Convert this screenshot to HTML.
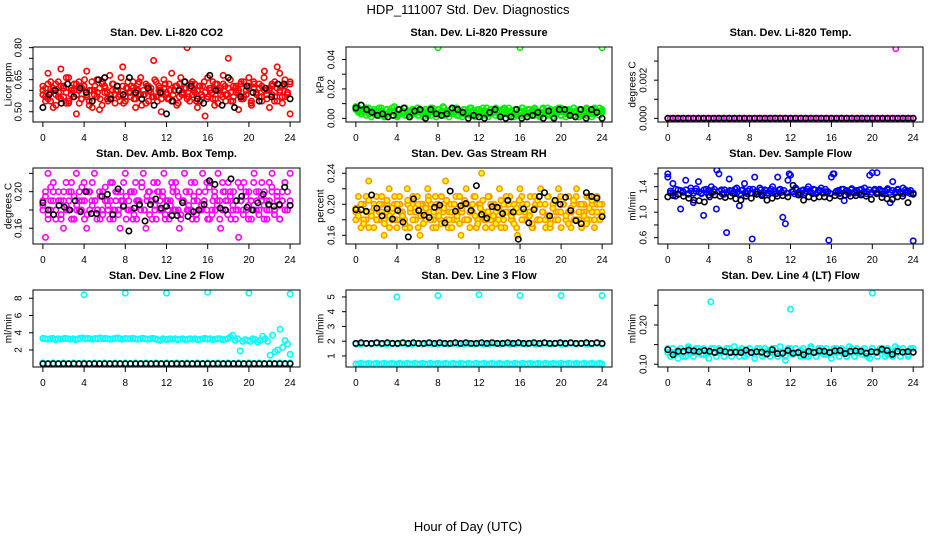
<!DOCTYPE html>
<html><head><meta charset="utf-8"><style>
html,body{margin:0;padding:0;background:#fff;}
svg{display:block;font-family:"Liberation Sans",sans-serif;}
</style></head><body>
<svg id="chart" width="936" height="540" viewBox="0 0 936 540" xmlns="http://www.w3.org/2000/svg">
<text x="468" y="14" text-anchor="middle" font-size="13">HDP_111007  Std. Dev. Diagnostics</text>
<text x="468" y="531" text-anchor="middle" font-size="13">Hour of Day (UTC)</text>
</svg>
<script>
const xTicks = [0,4,8,12,16,20,24];
// Panel 1 CO2
const co2Main = [0.62,0.55,0.68,0.59,0.52,0.63,0.57,0.70,0.61,0.54,0.66,0.58,0.60,0.49,0.64,0.56,0.62,0.69,0.53,0.60,0.58,0.65,0.51,0.63,0.59,0.56,0.67,0.60,0.54,0.62,0.58,0.71,0.55,0.61,0.57,0.64,0.52,0.60,0.66,0.58,0.63,0.55,0.61,0.74,0.57,0.62,0.50,0.65,0.59,0.56,0.68,0.60,0.53,0.63,0.58,0.61,0.80,0.55,0.64,0.59,0.52,0.62,0.57,0.48,0.66,0.60,0.56,0.63,0.54,0.61,0.67,0.58,0.75,0.55,0.62,0.59,0.51,0.64,0.57,0.60,0.66,0.53,0.61,0.58,0.63,0.55,0.69,0.60,0.52,0.62,0.57,0.71,0.59,0.54,0.65,0.58,0.49];
const co2Main2 = [0.58,0.61,0.56,0.64,0.60,0.53,0.59,0.62,0.57,0.66,0.55,0.60,0.63,0.58,0.54,0.61,0.65,0.57,0.60,0.52,0.62,0.59,0.56,0.64,0.61,0.55,0.58,0.63,0.60,0.57,0.66,0.54,0.61,0.59,0.62,0.56,0.60,0.64,0.53,0.58,0.62,0.60,0.57,0.65,0.55,0.61,0.59,0.63,0.56,0.60,0.58,0.62,0.54,0.66,0.59,0.61,0.57,0.63,0.60,0.55,0.62,0.58,0.64,0.56,0.61,0.59,0.53,0.63,0.60,0.57,0.62,0.58,0.65,0.55,0.61,0.59,0.63,0.56,0.60,0.62,0.54,0.64,0.59,0.61,0.57,0.66,0.58,0.60,0.63,0.55,0.61,0.68,0.57,0.62,0.59,0.64];
const co2Main3 = [0.60,0.57,0.63,0.55,0.61,0.58,0.64,0.56,0.62,0.59,0.54,0.61,0.57,0.63,0.60,0.56,0.62,0.58,0.55,0.64,0.60,0.57,0.61,0.53,0.62,0.59,0.56,0.63,0.58,0.60,0.55,0.62,0.57,0.64,0.59,0.61,0.56,0.63,0.58,0.60,0.54,0.62,0.59,0.57,0.64,0.60,0.56,0.61,0.58,0.63,0.55,0.60,0.62,0.57,0.59,0.64,0.56,0.61,0.58,0.63,0.60,0.55,0.62,0.59,0.57,0.61,0.64,0.56,0.60,0.58,0.63,0.55,0.61,0.59,0.57,0.62,0.60,0.56,0.64,0.58,0.61,0.55,0.63,0.59,0.57,0.62,0.60,0.56,0.61,0.58,0.64,0.55,0.60,0.62,0.57,0.59,0.63];
const co2Black = [0.52,0.58,0.60,0.54,0.63,0.57,0.61,0.59,0.55,0.65,0.66,0.56,0.62,0.58,0.66,0.59,0.56,0.61,0.53,0.59,0.49,0.55,0.60,0.64,0.62,0.56,0.54,0.67,0.60,0.53,0.66,0.52,0.57,0.62,0.59,0.55,0.61,0.57,0.63,0.63,0.56];
// Panel 2 Pressure
const presMain = [0.008,0.007,0.009,0.006,0.005,0.007,0.004,0.006,0.003,0.005,0.007,0.002,0.006,0.004,0.005,0.008,0.003,0.006,0.004,0.007,0.002,0.005,0.006,0.003,0.007,0.004,0.005,0.006,0.002,0.005,0.007,0.003,0.006,0.004,0.008,0.005,0.003,0.006,0.004,0.007,0.002,0.005,0.006,0.003,0.004,0.007,0.005,0.002,0.006,0.004,0.005,0.007,0.003,0.006,0.004,0.005,0.002,0.006,0.007,0.003,0.005,0.004,0.006,0.002,0.005,0.007,0.003,0.006,0.004,0.005,0.006,0.002,0.004,0.007,0.005,0.003,0.006,0.004,0.005,0.007,0.002,0.006,0.004,0.005,0.003,0.007,0.005,0.006,0.002,0.004,0.006,0.005,0.003,0.007,0.004,0.005,0.006];
const presMain2 = [0.006,0.004,0.003,0.005,0.002,0.004,0.001,0.003,0.005,0.002,0.004,0.001,0.003,0.005,0.002,0.004,0.001,0.003,0.005,0.002,0.004,0.001,0.003,0.005,0.002,0.004,0.001,0.003,0.005,0.002,0.004,0.001,0.003,0.005,0.002,0.004,0.001,0.003,0.005,0.002,0.004,0.001,0.003,0.005,0.002,0.004,0.001,0.003,0.005,0.002,0.004,0.001,0.003,0.005,0.002,0.004,0.001,0.003,0.005,0.002,0.004,0.001,0.003,0.005,0.002,0.004,0.001,0.003,0.005,0.002,0.004,0.001,0.003,0.005,0.002,0.004,0.001,0.003,0.005,0.002,0.004,0.001,0.003,0.005,0.002,0.004,0.001,0.003,0.005,0.002,0.004,0.001,0.003,0.005,0.002,0.004];
const presMain3 = [0.007,0.005,0.006,0.004,0.007,0.003,0.005,0.006,0.004,0.007,0.005,0.003,0.006,0.004,0.007,0.005,0.002,0.006,0.004,0.007,0.005,0.003,0.006,0.004,0.007,0.005,0.003,0.006,0.004,0.007,0.005,0.003,0.006,0.004,0.007,0.005,0.003,0.006,0.004,0.007,0.005,0.003,0.006,0.004,0.007,0.005,0.003,0.006,0.004,0.007,0.005,0.003,0.006,0.004,0.007,0.005,0.003,0.006,0.004,0.007,0.005,0.003,0.006,0.004,0.007,0.005,0.003,0.006,0.004,0.007,0.005,0.003,0.006,0.004,0.007,0.005,0.003,0.006,0.004,0.007,0.005,0.003,0.006,0.004,0.007,0.005,0.003,0.006,0.004,0.007,0.005,0.003,0.006,0.004,0.007,0.005];
const presBlack = [0.007,0.009,0.006,0.004,0.002,0.003,0.001,0.002,0.006,0.007,0.001,0.005,0.006,0.0,0.006,0.003,0.002,0.003,0.007,0.006,0.004,0.0,0.002,0.001,0.0,0.004,0.006,0.001,0.0,0.001,0.006,0.0,0.001,0.002,0.004,0.0,0.005,0.0,0.006,0.006,0.002,0.001,0.006,0.0,0.006,0.004,0.0];
const presOutX = [8,16,24];
const presOutY = [0.048,0.048,0.048];
// Panel 3 Li-820 temp
const ltMain = [0,0,0,0,0,0,0,0,0,0,0,0,0,0,0,0,0,0,0,0,0,0,0,0,0,0,0,0,0,0,0,0,0,0,0,0,0,0,0,0,0,0,0,0,0,0,0,0,0,0,0,0,0,0,0,0,0,0,0,0,0,0,0,0,0,0,0,0,0,0,0,0,0,0,0,0,0,0,0,0,0,0,0,0,0,0,0,0,0,0,0,0,0,0,0,0,0];
const ltBlack = [0,0,0,0,0,0,0,0,0,0,0,0,0,0,0,0,0,0,0,0,0,0,0,0,0,0,0,0,0,0,0,0,0,0,0,0,0,0,0,0,0,0,0,0,0,0,0,0,0];
const ltOutX = [22.3];
const ltOutY = [0.00365];
// Panel 4 Amb box temp
const abMain = [0.19,0.15,0.22,0.18,0.20,0.17,0.23,0.19,0.16,0.21,0.18,0.20,0.17,0.22,0.19,0.18,0.21,0.16,0.20,0.19,0.22,0.17,0.20,0.18,0.23,0.19,0.17,0.21,0.18,0.20,0.16,0.19,0.22,0.18,0.20,0.17,0.21,0.19,0.18,0.22,0.16,0.20,0.19,0.21,0.17,0.20,0.18,0.22,0.19,0.17,0.21,0.18,0.20,0.16,0.19,0.22,0.18,0.20,0.17,0.21,0.19,0.18,0.22,0.20,0.17,0.21,0.19,0.18,0.22,0.16,0.20,0.19,0.21,0.17,0.20,0.18,0.15,0.19,0.21,0.18,0.20,0.17,0.22,0.19,0.18,0.21,0.20,0.17,0.19,0.22,0.18,0.20,0.17,0.19,0.21,0.18,0.22];
const abMain2 = [0.18,0.20,0.17,0.19,0.21,0.18,0.19,0.17,0.20,0.18,0.19,0.21,0.17,0.18,0.20,0.19,0.17,0.20,0.18,0.21,0.19,0.18,0.17,0.20,0.19,0.18,0.21,0.17,0.19,0.18,0.20,0.21,0.17,0.19,0.18,0.20,0.17,0.19,0.21,0.18,0.19,0.20,0.17,0.18,0.21,0.19,0.20,0.17,0.18,0.19,0.20,0.21,0.18,0.17,0.19,0.20,0.18,0.21,0.19,0.17,0.20,0.18,0.19,0.21,0.17,0.18,0.20,0.19,0.17,0.21,0.18,0.19,0.20,0.18,0.17,0.21,0.19,0.18,0.20,0.17,0.19,0.21,0.18,0.20,0.19,0.17,0.18,0.21,0.20,0.18,0.19,0.17,0.20,0.21,0.18,0.19];
const abMain3 = [0.185,0.195,0.175,0.205,0.19,0.18,0.2,0.175,0.19,0.185,0.2,0.17,0.195,0.185,0.18,0.205,0.19,0.175,0.2,0.185,0.19,0.18,0.195,0.175,0.205,0.185,0.19,0.18,0.2,0.175,0.19,0.185,0.195,0.18,0.2,0.175,0.19,0.185,0.205,0.18,0.195,0.175,0.19,0.185,0.2,0.18,0.195,0.175,0.19,0.185,0.205,0.18,0.195,0.175,0.19,0.2,0.185,0.18,0.195,0.175,0.2,0.185,0.19,0.18,0.205,0.175,0.195,0.185,0.19,0.18,0.2,0.175,0.195,0.185,0.19,0.18,0.205,0.175,0.195,0.185,0.19,0.18,0.2,0.175,0.195,0.185,0.19,0.18,0.205,0.175,0.195,0.185,0.19,0.18,0.2,0.185];
const abBlack = [0.188,0.18,0.175,0.185,0.183,0.18,0.19,0.178,0.20,0.176,0.176,0.195,0.197,0.175,0.203,0.184,0.157,0.182,0.186,0.168,0.186,0.192,0.182,0.184,0.174,0.174,0.188,0.173,0.178,0.18,0.186,0.212,0.208,0.182,0.18,0.214,0.19,0.195,0.183,0.180,0.188,0.197,0.186,0.184,0.186,0.205,0.185];
// Panel 5 Gas stream RH
const rhMain = [0.19,0.21,0.17,0.20,0.18,0.23,0.19,0.17,0.21,0.18,0.20,0.16,0.19,0.22,0.18,0.20,0.17,0.21,0.19,0.18,0.22,0.17,0.20,0.19,0.21,0.16,0.20,0.18,0.22,0.19,0.17,0.21,0.20,0.18,0.19,0.23,0.17,0.20,0.18,0.21,0.19,0.16,0.20,0.22,0.18,0.19,0.21,0.17,0.20,0.24,0.18,0.19,0.21,0.17,0.20,0.18,0.22,0.19,0.17,0.20,0.21,0.18,0.19,0.16,0.22,0.20,0.18,0.19,0.21,0.17,0.20,0.18,0.22,0.19,0.17,0.21,0.18,0.20,0.19,0.22,0.17,0.20,0.18,0.21,0.19,0.18,0.22,0.20,0.17,0.19,0.21,0.18,0.20,0.19,0.21,0.18,0.20];
const rhMain2 = [0.18,0.19,0.20,0.18,0.21,0.17,0.19,0.20,0.18,0.19,0.21,0.18,0.20,0.17,0.19,0.21,0.18,0.20,0.19,0.17,0.20,0.19,0.21,0.18,0.17,0.20,0.19,0.18,0.21,0.20,0.18,0.17,0.19,0.21,0.20,0.18,0.19,0.17,0.20,0.18,0.21,0.19,0.18,0.20,0.17,0.19,0.21,0.18,0.20,0.19,0.17,0.21,0.18,0.20,0.19,0.18,0.17,0.20,0.21,0.19,0.18,0.20,0.17,0.19,0.21,0.18,0.20,0.19,0.17,0.21,0.18,0.20,0.19,0.18,0.21,0.17,0.20,0.18,0.19,0.21,0.20,0.18,0.19,0.17,0.20,0.21,0.18,0.19,0.20,0.18,0.21,0.19,0.17,0.20,0.18,0.19];
const rhMain3 = [0.195,0.185,0.2,0.175,0.19,0.205,0.185,0.195,0.18,0.2,0.19,0.175,0.205,0.185,0.195,0.18,0.2,0.19,0.185,0.175,0.205,0.195,0.18,0.19,0.2,0.185,0.175,0.195,0.205,0.18,0.19,0.2,0.185,0.175,0.195,0.205,0.18,0.19,0.2,0.185,0.175,0.195,0.205,0.18,0.19,0.2,0.185,0.175,0.195,0.205,0.18,0.19,0.2,0.185,0.175,0.195,0.205,0.18,0.19,0.2,0.185,0.175,0.195,0.205,0.18,0.19,0.2,0.185,0.175,0.195,0.205,0.18,0.19,0.2,0.185,0.175,0.195,0.205,0.18,0.19,0.2,0.185,0.175,0.195,0.205,0.18,0.19,0.2,0.185,0.175,0.195,0.205,0.18,0.19,0.2,0.185];
const rhBlack = [0.193,0.193,0.191,0.212,0.195,0.185,0.194,0.181,0.192,0.177,0.158,0.207,0.192,0.186,0.183,0.196,0.199,0.176,0.217,0.191,0.198,0.201,0.192,0.224,0.187,0.182,0.197,0.196,0.188,0.205,0.190,0.155,0.194,0.176,0.193,0.21,0.215,0.185,0.205,0.20,0.209,0.192,0.179,0.175,0.215,0.21,0.208,0.184];
// Panel 6 Sample flow
const sfMain = [1.55,1.30,1.45,1.25,1.35,1.05,1.32,1.50,1.28,1.38,1.15,1.33,1.48,1.30,0.95,1.36,1.27,1.40,1.32,1.05,1.60,1.35,1.28,0.68,1.52,1.33,1.30,1.38,1.10,1.34,1.45,1.29,1.36,0.58,1.55,1.32,1.38,1.28,1.35,1.30,1.33,1.40,1.29,1.55,1.36,0.92,0.82,1.50,1.58,1.32,1.38,1.30,1.28,1.35,1.33,1.40,1.31,1.36,1.29,1.34,1.38,1.30,1.32,0.56,1.55,1.60,1.33,1.29,1.36,1.18,1.34,1.31,1.37,1.30,1.33,1.35,1.29,1.38,1.32,1.58,1.62,1.36,1.31,1.34,1.29,1.33,1.37,1.15,1.48,1.32,1.35,1.30,1.38,1.31,1.33,1.29,0.55];
const sfMain2 = [1.60,1.33,1.30,1.36,1.28,1.34,1.31,1.35,1.29,1.33,1.30,1.37,1.32,1.29,1.35,1.31,1.34,1.30,1.36,1.66,1.33,1.29,1.35,1.31,1.34,1.30,1.36,1.32,1.29,1.35,1.31,1.33,1.30,1.36,1.32,1.29,1.35,1.31,1.34,1.30,1.36,1.33,1.29,1.35,1.31,1.34,1.30,1.60,1.32,1.29,1.35,1.31,1.34,1.30,1.36,1.33,1.29,1.35,1.31,1.34,1.30,1.36,1.32,1.29,1.60,1.31,1.34,1.30,1.36,1.33,1.29,1.35,1.31,1.34,1.30,1.36,1.32,1.29,1.35,1.31,1.34,1.62,1.36,1.33,1.29,1.35,1.31,1.34,1.30,1.36,1.32,1.29,1.35,1.31,1.34,1.30];
const sfBlack = [1.24,1.26,1.28,1.25,1.22,1.19,1.18,1.16,1.24,1.27,1.25,1.23,1.25,1.21,1.19,1.25,1.22,1.28,1.26,1.19,1.22,1.25,1.26,1.24,1.42,1.27,1.19,1.24,1.22,1.24,1.24,1.22,1.26,1.25,1.27,1.25,1.26,1.27,1.25,1.20,1.29,1.23,1.21,1.20,1.24,1.25,1.15,1.28];
// Panel 7 Line 2 flow
const l2High = [3.35,3.3,3.25,3.3,3.35,3.2,3.3,3.25,3.3,3.35,3.3,3.25,3.3,3.2,3.3,3.35,3.4,3.3,3.35,3.3,3.25,3.35,3.3,3.4,3.3,3.35,3.3,3.25,3.3,3.35,3.4,3.3,3.25,3.35,3.3,3.3,3.35,3.3,3.25,3.3,3.35,3.3,3.25,3.3,3.35,3.3,3.2,3.1,3.3,3.25,3.2,3.3,3.25,3.3,3.2,3.25,3.3,3.2,3.25,3.3,3.25,3.3,3.2,3.25,3.3,3.35,3.25,3.3,3.2,3.25,3.3,3.3,3.2,3.25,3.3,3.5,3.7,3.1,3.3,1.9,3.0,3.2,3.1,3.0,3.3,3.2,2.9,3.1,3.6,3.3,3.0,1.4,3.7,1.8,2.0,4.4,2.3,3.1,2.7,1.5];
const l2Low = [0.5,0.45,0.5,0.45,0.5,0.45,0.5,0.45,0.5,0.45,0.5,0.45,0.5,0.45,0.5,0.45,0.5,0.45,0.5,0.45,0.5,0.45,0.5,0.45,0.5,0.45,0.5,0.45,0.5,0.45,0.5,0.45,0.5,0.45,0.5,0.45,0.5,0.45,0.5,0.45,0.5,0.45,0.5,0.45,0.5,0.45,0.5,0.45,0.5];
const l2Black = [0.4,0.4,0.4,0.4,0.4,0.4,0.4,0.4,0.4,0.4,0.4,0.4,0.4,0.4,0.4,0.4,0.4,0.4,0.4,0.4,0.4,0.4,0.4,0.4,0.4,0.4,0.4,0.4,0.4,0.4,0.4,0.4,0.4,0.4,0.4,0.4,0.4,0.4,0.4,0.4,0.4,0.4,0.4,0.4,0.4,0.4,0.4,0.4,0.4];
const l2OutX = [4,8,12,16,20,24];
const l2OutY = [8.4,8.6,8.6,8.7,8.6,8.5];
// Panel 8 Line 3 flow
const l3High = [1.8,1.8,1.85,1.8,1.85,1.8,1.8,1.85,1.8,1.85,1.8,1.8,1.85,1.8,1.85,1.8,1.8,1.85,1.8,1.85,1.8,1.8,1.85,1.8,1.85,1.8,1.8,1.85,1.8,1.85,1.8,1.8,1.85,1.8,1.85,1.8,1.8,1.85,1.8,1.85,1.8,1.8,1.85,1.8,1.85,1.8,1.8,1.85,1.8];
const l3Low = [0.45,0.45,0.5,0.45,0.45,0.5,0.45,0.45,0.5,0.45,0.45,0.5,0.45,0.45,0.5,0.45,0.45,0.5,0.45,0.45,0.5,0.45,0.45,0.5,0.45,0.45,0.5,0.45,0.45,0.5,0.45,0.45,0.5,0.45,0.45,0.5,0.45,0.45,0.5,0.45,0.45,0.5,0.45,0.45,0.5,0.45,0.45,0.5,0.45,0.45,0.5,0.45,0.45,0.5,0.45,0.45,0.5,0.45,0.45,0.5,0.45,0.45,0.5,0.45,0.45,0.5,0.45,0.45,0.5,0.45,0.45,0.5,0.45,0.45,0.5,0.45,0.45,0.5,0.45,0.45,0.5,0.45,0.45,0.5,0.45,0.45,0.5,0.45,0.45,0.5,0.45,0.45,0.5,0.45,0.45,0.5,0.45];
const l3Black = [1.85,1.9,1.85,1.85,1.9,1.85,1.9,1.85,1.85,1.9,1.85,1.9,1.85,1.85,1.9,1.85,1.9,1.85,1.85,1.9,1.85,1.9,1.85,1.85,1.9,1.85,1.9,1.85,1.85,1.9,1.85,1.9,1.85,1.85,1.9,1.85,1.9,1.85,1.85,1.9,1.85,1.9,1.85,1.85,1.9,1.85,1.9,1.85];
const l3OutX = [4,8,12,16,20,24];
const l3OutY = [5.0,5.1,5.15,5.1,5.1,5.1];
// Panel 9 Line 4 flow
const l4Main = [0.13,0.12,0.14,0.13,0.115,0.14,0.13,0.12,0.145,0.13,0.12,0.14,0.13,0.125,0.14,0.13,0.115,0.14,0.13,0.12,0.14,0.135,0.12,0.14,0.13,0.12,0.145,0.13,0.12,0.14,0.13,0.125,0.14,0.13,0.115,0.14,0.13,0.12,0.14,0.135,0.12,0.14,0.13,0.12,0.145,0.13,0.11,0.14,0.13,0.125,0.14,0.13,0.12,0.14,0.13,0.12,0.145,0.13,0.12,0.14,0.13,0.125,0.14,0.13,0.115,0.14,0.13,0.12,0.14,0.135,0.12,0.145,0.13,0.12,0.14,0.13,0.125,0.14,0.13,0.115,0.14,0.13,0.12,0.14,0.135,0.12,0.14,0.13,0.12,0.145,0.13,0.12,0.14,0.13,0.125,0.14,0.13];
const l4Main2 = [0.14,0.13,0.135,0.12,0.14,0.13,0.14,0.125,0.13,0.14,0.13,0.12,0.14,0.13,0.135,0.12,0.14,0.13,0.14,0.125,0.13,0.14,0.13,0.12,0.14,0.13,0.135,0.12,0.14,0.13,0.14,0.125,0.13,0.14,0.13,0.12,0.14,0.13,0.135,0.12,0.14,0.13,0.14,0.125,0.13,0.14,0.13,0.12,0.14];
const l4Black = [0.137,0.124,0.133,0.133,0.136,0.134,0.132,0.135,0.133,0.13,0.135,0.132,0.13,0.131,0.13,0.136,0.13,0.132,0.131,0.126,0.137,0.127,0.128,0.135,0.128,0.13,0.124,0.133,0.13,0.134,0.133,0.13,0.134,0.135,0.127,0.133,0.134,0.133,0.128,0.132,0.131,0.138,0.135,0.125,0.133,0.131,0.132,0.131];
const l4OutX = [4.2,12,20];
const l4OutY = [0.259,0.240,0.281];

const svg = document.getElementById('chart');
const NS = 'http://www.w3.org/2000/svg';
function mk(tag, attrs, parent){ const e=document.createElementNS(NS,tag); for(const k in attrs) e.setAttribute(k,attrs[k]); (parent||svg).appendChild(e); return e; }

const cols = [{l:33,r:300,lab:9,tl:19},{l:346,r:612,lab:321,tl:332},{l:658,r:923,lab:633,tl:644}];
const rows = [{t:47,b:122,title:36},{t:168,b:244,title:157},{t:290,b:367,title:279}];

const panels = [
 {c:0,r:0,title:'Stan. Dev. Li-820 CO2',ylab:'Licor ppm',ymin:0.452,ymax:0.803,ticks:[0.50,0.55,0.60,0.65,0.70,0.75,0.80],labels:[0.50,0.65,0.80],dec:2,
  series:[{v:co2Main,col:'#ff0000'},{v:co2Main2,col:'#ff0000'},{v:co2Main3,col:'#ff0000'},{v:co2Black,col:'#000000'}]},
 {c:1,r:0,title:'Stan. Dev. Li-820 Pressure',ylab:'kPa',ymin:-0.0025,ymax:0.0485,ticks:[0,0.01,0.02,0.03,0.04],labels:[0,0.02,0.04],dec:2,
  series:[{v:presMain,col:'#00ee00'},{v:presMain2,col:'#00ee00'},{v:presMain3,col:'#00ee00'},{v:presBlack,col:'#000000'},{x:presOutX,v:presOutY,col:'#00ee00'}]},
 {c:2,r:0,title:'Stan. Dev. Li-820 Temp.',ylab:'degrees C',ymin:-0.000193,ymax:0.00374,ticks:[0,0.001,0.002,0.003],labels:[0,0.002],dec:3,
  series:[{v:ltMain,col:'#ff00ff'},{v:ltBlack,col:'#000000'},{x:ltOutX,v:ltOutY,col:'#ff00ff'}]},
 {c:0,r:1,title:'Stan. Dev. Amb. Box Temp.',ylab:'degrees C',ymin:0.1428,ymax:0.2259,ticks:[0.16,0.18,0.20,0.22],labels:[0.16,0.20],dec:2,
  series:[{v:abMain,col:'#ff00ff'},{v:abMain2,col:'#ff00ff'},{v:abMain3,col:'#ff00ff'},{v:abBlack,col:'#000000'}]},
 {c:1,r:1,title:'Stan. Dev. Gas Stream RH',ylab:'percent',ymin:0.1488,ymax:0.2468,ticks:[0.16,0.18,0.20,0.22,0.24],labels:[0.16,0.20,0.24],dec:2,
  series:[{v:rhMain,col:'#ff9900',fill:'#ffff00'},{v:rhMain2,col:'#ff9900',fill:'#ffff00'},{v:rhMain3,col:'#ff9900',fill:'#ffff00'},{v:rhBlack,col:'#000000'}]},
 {c:2,r:1,title:'Stan. Dev. Sample Flow',ylab:'ml/min',ymin:0.501,ymax:1.693,ticks:[0.6,0.8,1.0,1.2,1.4,1.6],labels:[0.6,1.0,1.4],dec:1,
  series:[{v:sfMain,col:'#0000ff'},{v:sfMain2,col:'#0000ff'},{v:sfBlack,col:'#000000'}]},
 {c:0,r:2,title:'Stan. Dev. Line 2 Flow',ylab:'ml/min',ymin:0.027,ymax:8.96,ticks:[2,4,6,8],labels:[2,4,6,8],dec:0,
  series:[{v:l2High,col:'#00ffff'},{v:l2Low,col:'#00ffff'},{v:l2Black,col:'#000000'},{x:l2OutX,v:l2OutY,col:'#00ffff'}]},
 {c:1,r:2,title:'Stan. Dev. Line 3 Flow',ylab:'ml/min',ymin:0.25,ymax:5.47,ticks:[1,2,3,4,5],labels:[1,2,3,4,5],dec:0,
  series:[{v:l3High,col:'#00ffff'},{v:l3Low,col:'#00ffff'},{v:l3Black,col:'#000000'},{x:l3OutX,v:l3OutY,col:'#00ffff'}]},
 {c:2,r:2,title:'Stan. Dev. Line 4 (LT) Flow',ylab:'ml/min',ymin:0.093,ymax:0.289,ticks:[0.10,0.15,0.20,0.25],labels:[0.10,0.20],dec:2,
  series:[{v:l4Main,col:'#00ffff'},{v:l4Main2,col:'#00ffff'},{v:l4Black,col:'#000000'},{x:l4OutX,v:l4OutY,col:'#00ffff'}]}
];

panels.forEach((p,pi)=>{
  const C=cols[p.c], R=rows[p.r];
  const g = mk('g',{});
  
  
  const xs = h => C.l + (h+0.96)/25.92*(C.r-C.l);
  const ys = v => R.b - (v-p.ymin)/(p.ymax-p.ymin)*(R.b-R.t);
  const cp = mk('clipPath',{id:'clip'+pi},g);
  mk('rect',{x:C.l,y:R.t,width:C.r-C.l,height:R.b-R.t},cp);
  const t = mk('text',{x:(C.l+C.r)/2,y:R.title,'text-anchor':'middle','font-size':'11','font-weight':'bold'},g);
  t.textContent=p.title;
  
  
  const pg = mk('g',{'clip-path':'url(#clip'+pi+')'},g);
  p.series.forEach((s,si)=>{
    const n=s.v.length;
    s.v.forEach((v,i)=>{
      const h = s.x ? s.x[i] : (n>1 ? i*24/(n-1) : 0);
      const c = mk('circle',{cx:xs(h).toFixed(1),cy:ys(v).toFixed(1),r:2.7,fill:s.fill||'none',stroke:s.col,'stroke-width':1.6},pg);
      
      
    });
  });
  const box = mk('rect',{x:C.l,y:R.t,width:C.r-C.l,height:R.b-R.t,fill:'none',stroke:'#000','stroke-width':1},g);
  
  
  const xa = mk('g',{},g);
  
  
  xTicks.forEach(h=>{
    mk('line',{x1:xs(h),x2:xs(h),y1:R.b,y2:R.b+5,stroke:'#000'},xa);
    const tl=mk('text',{x:xs(h),y:R.b+19,'text-anchor':'middle','font-size':'10'},xa);
    tl.textContent=h;
  });
  const ya = mk('g',{},g);
  
  
  const ax = C.l;
  p.ticks.forEach(v=>mk('line',{x1:ax-4,x2:ax,y1:ys(v),y2:ys(v),stroke:'#000'},ya));
  p.labels.forEach(v=>{
    const y=ys(v);
    const tl=mk('text',{x:C.tl,y:y,'text-anchor':'middle','font-size':'10',transform:'rotate(-90 '+C.tl+' '+y+')','dominant-baseline':'central'},ya);
    tl.textContent=v.toFixed(p.dec);
  });
  const my=(R.t+R.b)/2;
  const yl=mk('text',{x:C.lab,y:my,'text-anchor':'middle','font-size':'10',transform:'rotate(-90 '+C.lab+' '+my+')','dominant-baseline':'central'},ya);
  yl.textContent=p.ylab;
  
  
});
</script>
</body></html>
